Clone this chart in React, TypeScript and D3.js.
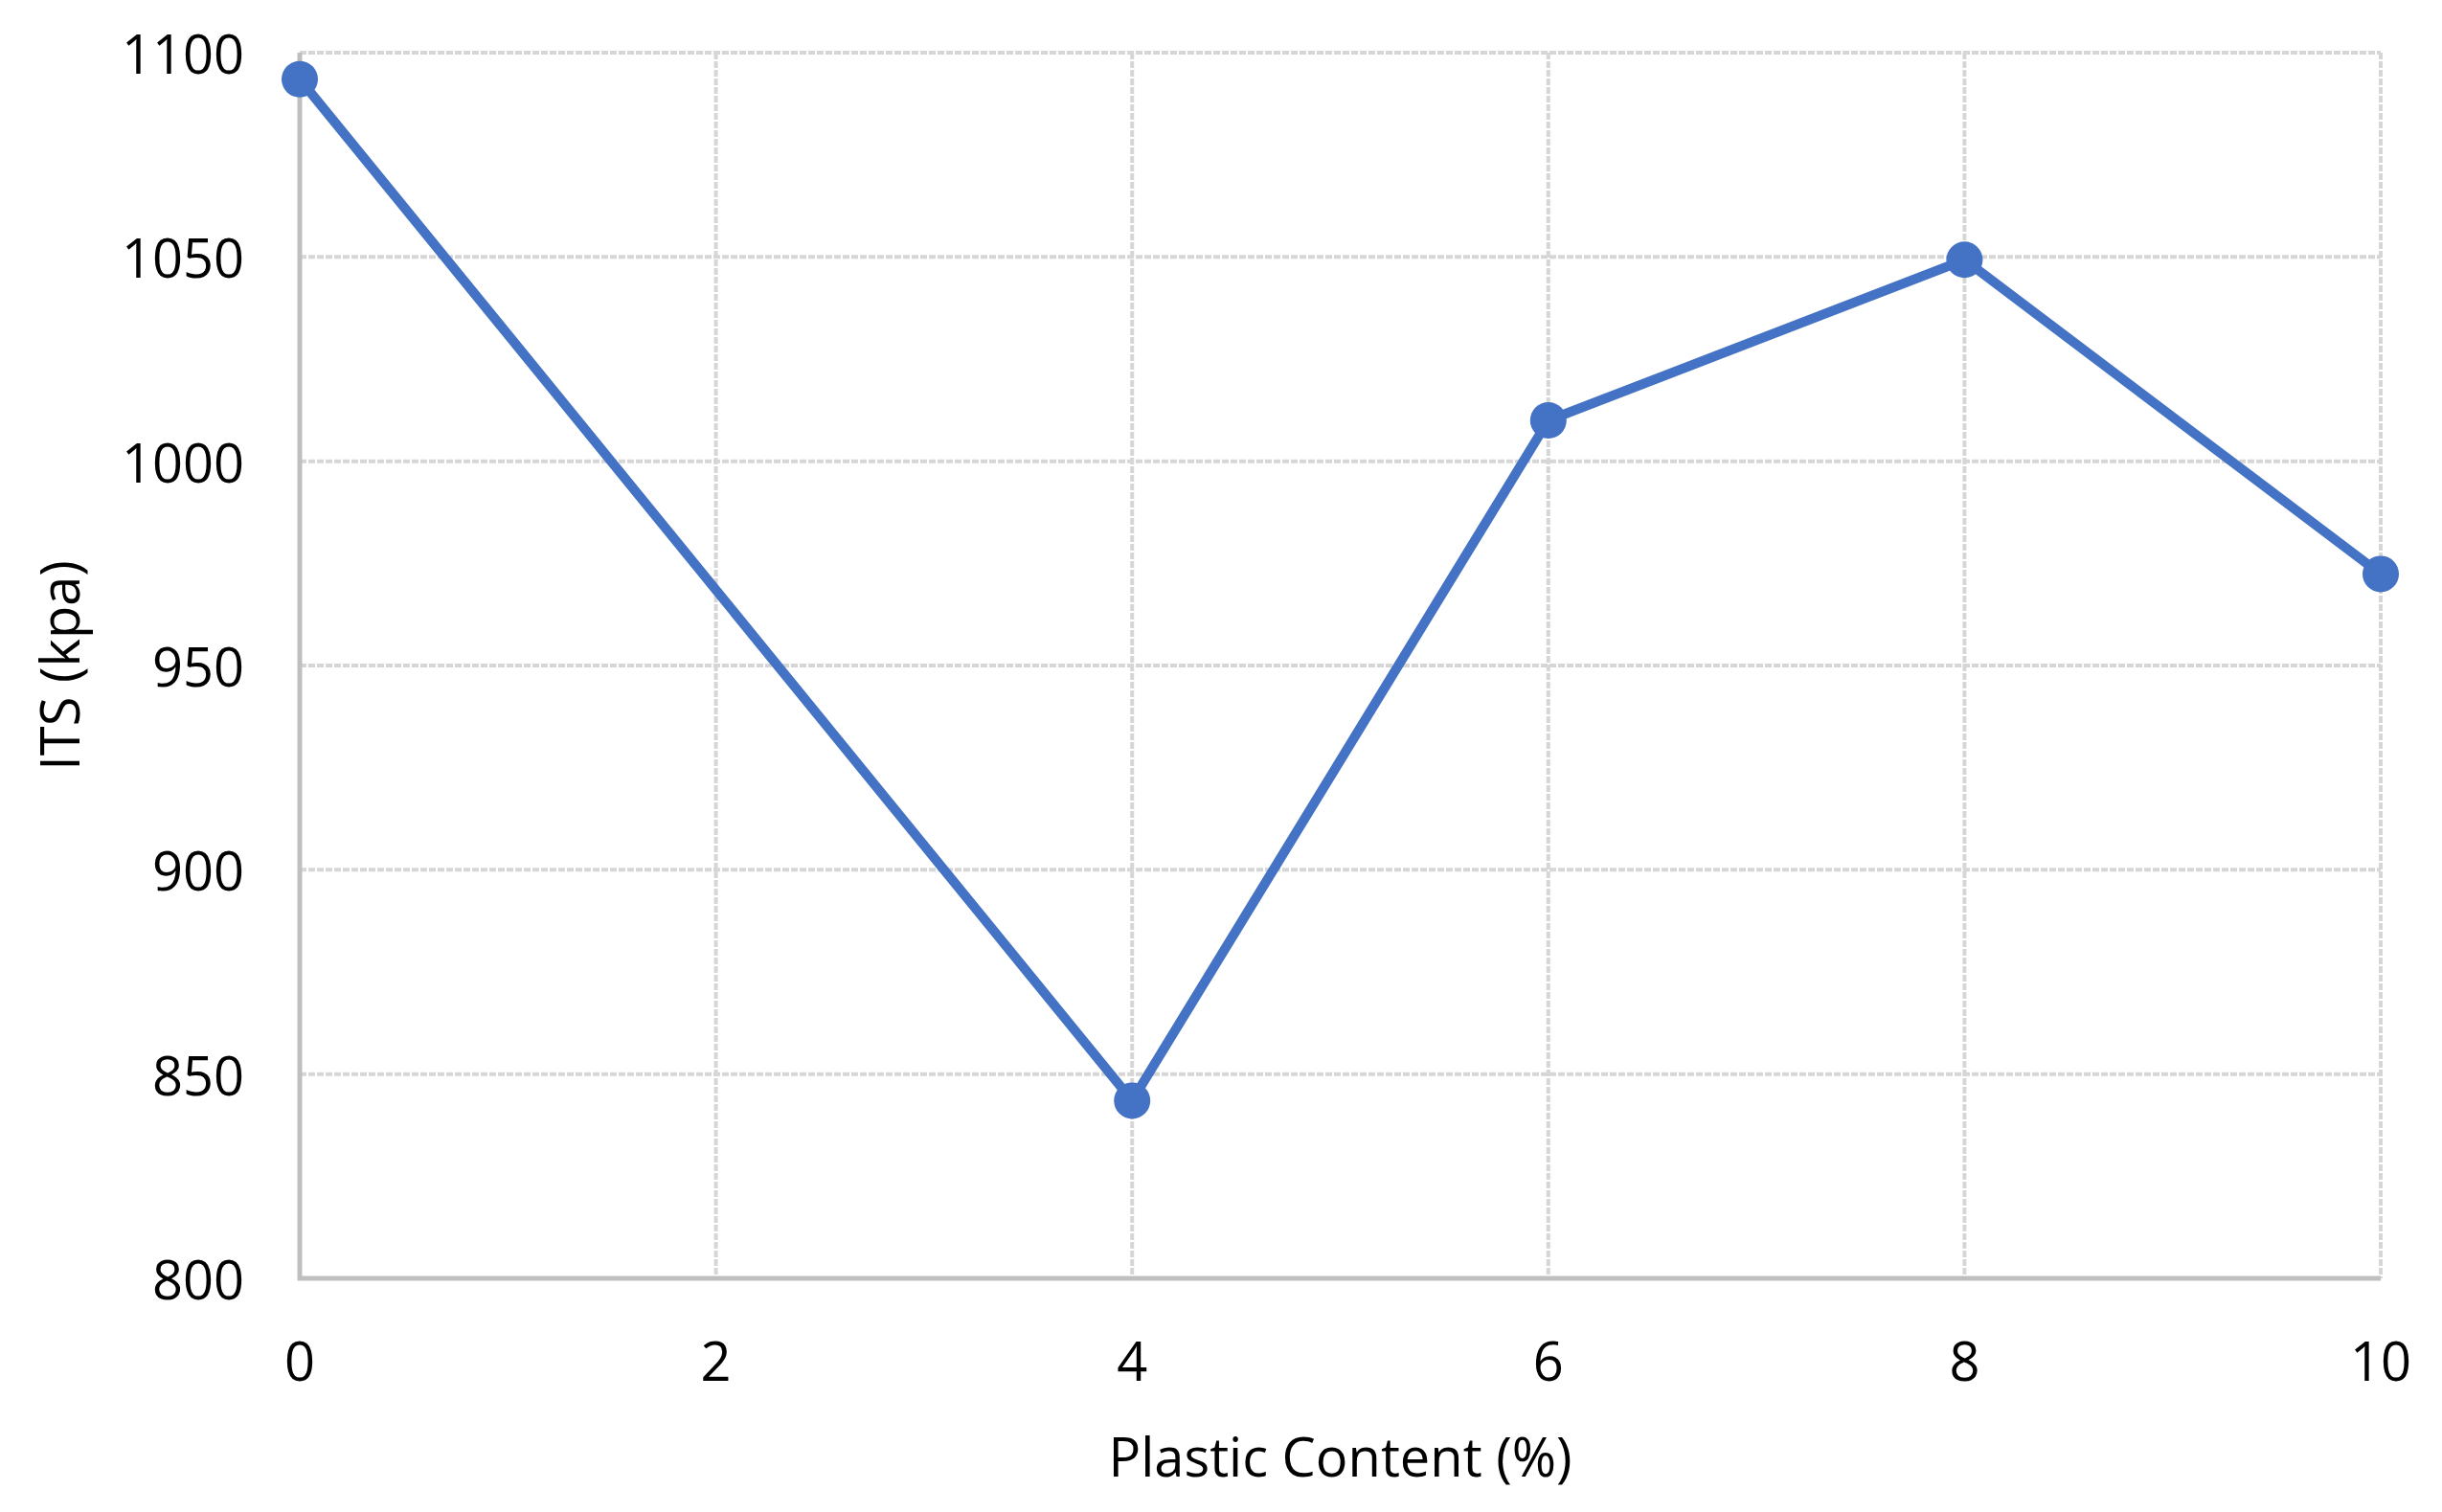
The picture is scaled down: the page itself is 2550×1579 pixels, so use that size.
import React from 'react';
import * as d3 from 'd3';

// data
const plasticContent = [0, 4, 6, 8, 10];
const itsValues = [1093.5, 843.5, 1010, 1049.3, 972.4];
const xTicks = [0, 2, 4, 6, 8, 10];
const yTicks = [800, 850, 900, 950, 1000, 1050, 1100];

const W = 2550;
const H = 1579;
const margin = { top: 55, right: 64, bottom: 244, left: 313 };
const FONT = '"Open Sans", sans-serif';

const App = () => {
  const innerW = W - margin.left - margin.right;
  const innerH = H - margin.top - margin.bottom;

  const x = d3.scaleLinear().domain([0, 10]).range([0, innerW]);
  const y = d3.scaleLinear().domain([800, 1100]).range([innerH, 0]);

  const points = plasticContent.map((p, i) => ({ x: p, y: itsValues[i] }));
  const line = d3.line<{ x: number; y: number }>()
    .x(d => x(d.x))
    .y(d => y(d.y));

  return (
    <svg width={W} height={H} style={{ position: 'absolute', left: 0, top: 0, background: '#fff' }}>
      <g transform={`translate(${margin.left},${margin.top})`}>
        {/* horizontal gridlines */}
        {yTicks.map(t => (
          <line key={'gy' + t} x1={0} x2={innerW} y1={y(t)} y2={y(t)}
            stroke="#d6d6d6" strokeWidth={4} strokeDasharray={t === 800 ? undefined : '7,2'} />
        ))}
        {/* vertical gridlines */}
        {xTicks.map(t => (
          <line key={'gx' + t} x1={x(t)} x2={x(t)} y1={0} y2={innerH}
            stroke="#d6d6d6" strokeWidth={4} strokeDasharray={t === 0 ? undefined : '7,2'} />
        ))}
        {/* axis lines */}
        <line x1={0} x2={0} y1={0} y2={innerH + 2} stroke="#bfbfbf" strokeWidth={5} />
        <line x1={-2} x2={innerW} y1={innerH} y2={innerH} stroke="#bfbfbf" strokeWidth={5} />

        {/* y tick labels */}
        {yTicks.map(t => (
          <text key={'ly' + t} x={-58} y={y(t)} textAnchor="end" dominantBaseline="central"
            fontFamily={FONT} fontSize={56} fill="#000">{t}</text>
        ))}
        {/* x tick labels */}
        {xTicks.map(t => (
          <text key={'lx' + t} x={x(t)} y={innerH + 85} textAnchor="middle" dominantBaseline="central"
            fontFamily={FONT} fontSize={56} fill="#000">{t}</text>
        ))}

        {/* data line and markers */}
        <path d={line(points) || ''} fill="none" stroke="#4472c4" strokeWidth={10} strokeLinejoin="round" />
        {points.map((d, i) => (
          <circle key={'pt' + i} cx={x(d.x)} cy={y(d.y)} r={19} fill="#4472c4" />
        ))}

        {/* axis titles */}
        <text x={innerW / 2} y={innerH + 207} textAnchor="middle"
          fontFamily={FONT} fontSize={56} fill="#000">Plastic Content (%)</text>
        <text transform={`translate(${83 - margin.left},${innerH / 2}) rotate(-90)`} textAnchor="middle"
          fontFamily={FONT} fontSize={56} fill="#000">ITS (kpa)</text>
      </g>
    </svg>
  );
};

export default App;
